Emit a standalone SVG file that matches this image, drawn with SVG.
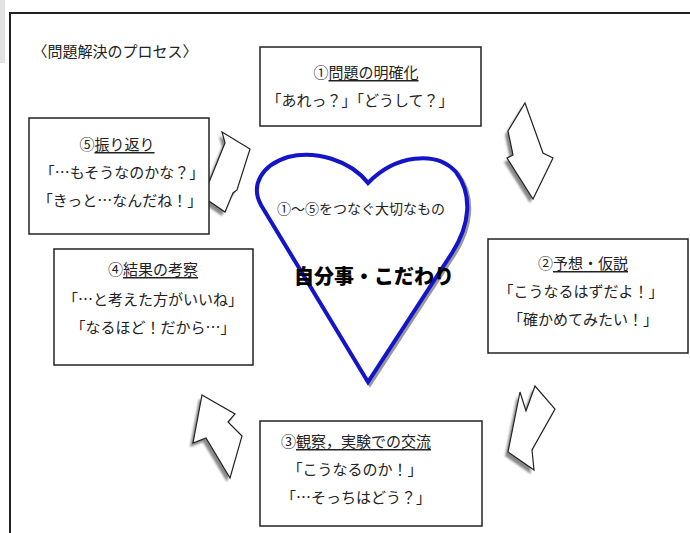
<svg xmlns="http://www.w3.org/2000/svg" width="690" height="533" viewBox="0 0 690 533">
<defs>
<filter id="blur" x="-20%" y="-20%" width="140%" height="140%"><feGaussianBlur stdDeviation="1.3"/></filter>
<style>
.box{fill:#fff;stroke:#222;stroke-width:1.5}
.t{font-family:"Noto Sans CJK JP","Noto Sans CJK SC",sans-serif;font-size:15px;fill:#222;text-anchor:middle;dominant-baseline:central}
.u{text-decoration:underline}
.arr{fill:#fff;stroke:#222;stroke-width:1.2;stroke-linejoin:miter}
.sh{fill:#888;filter:url(#blur)}
</style>
</defs>
<rect width="690" height="533" fill="#fff"/>
<rect x="0" y="0" width="5" height="63" fill="#e2e2e2"/>
<path d="M10,533 V13 H690" fill="none" stroke="#222" stroke-width="2"/>
<text class="t" x="115" y="50">〈問題解決のプロセス〉</text>

<g id="connectors">
<polygon class="sh" transform="translate(-3,4)" points="222,132 250,149 237,190 233,193 225,212 203,197 225,143"/>
<polygon class="arr" points="222,132 250,149 237,190 233,193 225,212 203,197 225,143"/>
<polygon class="sh" transform="translate(-3,4)" points="525,103 543,153 553,158 533,199 507,158 513,155 508,131"/>
<polygon class="arr" points="525,103 543,153 553,158 533,199 507,158 513,155 508,131"/>
<polygon class="sh" transform="translate(-3,4)" points="520,392 526,411 535,386 555,409 532,450 534,470 508,452"/>
<polygon class="arr" points="520,392 526,411 535,386 555,409 532,450 534,470 508,452"/>
<polygon class="sh" transform="translate(-3,4)" points="202,395 235,414 228,422 242,436 230,478 206,438 193,443"/>
<polygon class="arr" points="202,395 235,414 228,422 242,436 230,478 206,438 193,443"/>
</g>

<g id="heart">
<path d="M368,183 C350,160 315,150 288,157 C262,165 250,185 261,205 L368,382 L452,253 C470,225 473,195 456,172 C436,150 395,155 368,183 Z" fill="none" stroke="#999" stroke-width="4" transform="translate(2,2)"/>
<path d="M368,183 C350,160 315,150 288,157 C262,165 250,185 261,205 L368,382 L452,253 C470,225 473,195 456,172 C436,150 395,155 368,183 Z" fill="#fff" stroke="#1414c8" stroke-width="4"/>
<text class="t" x="361" y="208" style="font-size:14px">①～⑤をつなぐ大切なもの</text>
<text class="t" x="374" y="275" style="font-size:20px;font-weight:900;fill:#000">自分事・こだわり</text>
</g>

<g id="box1">
<rect class="box" x="260" y="47" width="221" height="79"/>
<text class="t" x="366" y="71">①<tspan class="u">問題の明確化</tspan></text>
<text class="t" x="360" y="99">「あれっ？」「どうして？」</text>
</g>

<g id="box2">
<rect class="box" x="488" y="239" width="200" height="114"/>
<text class="t" x="583" y="262">②<tspan class="u">予想・仮説</tspan></text>
<text class="t" x="581" y="290">「こうなるはずだよ！」</text>
<text class="t" x="583" y="318">「確かめてみたい！」</text>
</g>

<g id="box3">
<rect class="box" x="260" y="421" width="222" height="105"/>
<text class="t" x="356" y="440">③<tspan class="u">観察，実験での交流</tspan></text>
<text class="t" x="355" y="468">「こうなるのか！」</text>
<text class="t" x="356" y="496">「…そっちはどう？」</text>
</g>

<g id="box4">
<rect class="box" x="54" y="249" width="199" height="116"/>
<text class="t" x="153" y="268">④<tspan class="u">結果の考察</tspan></text>
<text class="t" x="153" y="298">「…と考えた方がいいね」</text>
<text class="t" x="153" y="326">「なるほど！だから…」</text>
</g>

<g id="box5">
<rect class="box" x="29" y="118" width="180" height="116"/>
<text class="t" x="117" y="143">⑤<tspan class="u">振り返り</tspan></text>
<text class="t" x="122" y="171">「…もそうなのかな？」</text>
<text class="t" x="120" y="199">「きっと…なんだね！」</text>
</g>
</svg>
